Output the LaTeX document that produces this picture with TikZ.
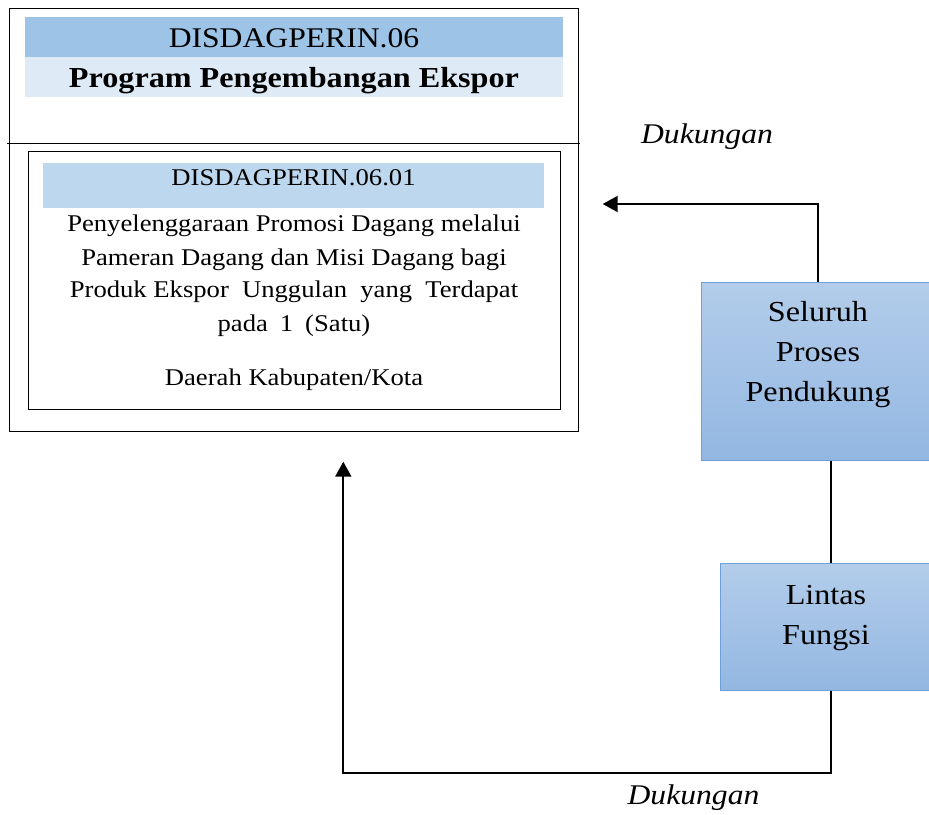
\documentclass[tikz,border=0pt]{standalone}
\usepackage{fontspec}
\setmainfont{Liberation Serif}[FakeStretch=1.11]
\usetikzlibrary{arrows.meta}

\definecolor{bandDark}{HTML}{9DC3E6}
\definecolor{bandLight}{HTML}{DEEAF6}
\definecolor{bandMid}{HTML}{BDD7EE}
\definecolor{procTop}{HTML}{B3CDEA}
\definecolor{procBot}{HTML}{93B7E2}
\definecolor{procEdge}{HTML}{6F9FD8}

\tikzset{
  frame/.style={draw=black, line width=1pt, inner sep=0pt},
  band/.style={inner sep=0pt, outer sep=0pt},
  procbox/.style={draw=procEdge, line width=1pt, top color=procTop, bottom color=procBot, inner sep=0pt},
  txt/.style={inner sep=0pt, anchor=base},
  flow/.style={line width=2pt, -{Triangle[length=15pt,width=16pt]}},
  link/.style={line width=2pt},
}

\newcommand{\bodyfont}{\fontsize{24}{33}\selectfont}
\newcommand{\procfont}{\fontsize{29}{40}\selectfont}
\newcommand{\notefont}{\fontsize{28.5}{32}\selectfont\itshape}

\begin{document}
\begin{tikzpicture}[x=1pt,y=-1pt]
\useasboundingbox (0,0) rectangle (929,814);

% outer program frame
\node[frame, minimum width=569pt, minimum height=423pt] (prog) at (293.5,219.5) {};
\coordinate (divL) at (7,143.3);
\coordinate (divR) at (580,143.3);
\draw[line width=1pt] (divL) -- (divR);

% program header bands
\node[band, fill=bandDark, minimum width=538pt, minimum height=40pt] (code) at (294,37.3) {};
\node[band, fill=bandLight, minimum width=538pt, minimum height=40pt] (title) at (294,77.3) {};
\node[txt, font=\fontsize{28.5}{34}\selectfont] (codeT) at (294,47.3) {DISDAGPERIN.06};
\node[txt, font=\fontsize{29}{34}\selectfont\bfseries] (titleT) at (294,87.3) {Program Pengembangan Ekspor};

% activity frame
\node[frame, minimum width=532pt, minimum height=257.6pt] (act) at (294,280.5) {};
\node[band, fill=bandMid, minimum width=501pt, minimum height=45pt] (actcode) at (293.5,185.2) {};
\node[txt, font=\fontsize{24}{30}\selectfont] (actcodeT) at (293.5,185) {DISDAGPERIN.06.01};

\node[txt, font=\bodyfont] (l1) at (294,231.7) {Penyelenggaraan Promosi Dagang melalui};
\node[txt, font=\bodyfont] (l2) at (294,265) {Pameran Dagang dan Misi Dagang bagi};
\node[txt, font=\bodyfont] (l3) at (294,297.7) {Produk Ekspor\hspace{0.55em}Unggulan\hspace{0.55em}yang\hspace{0.55em}Terdapat};
\node[txt, font=\bodyfont] (l4) at (294,331) {pada\hspace{0.5em}1\hspace{0.5em}(Satu)};
\node[txt, font=\bodyfont] (l5) at (294,385) {Daerah Kabupaten/Kota};

% supporting processes (text anchored on the baseline of its last line)
\node[procbox, minimum width=240pt, minimum height=178.4pt] (proc) at (821.7,371.5) {};
\node[txt, font=\procfont, align=center] (procT) at (818,401.7) {Seluruh\\Proses\\Pendukung};

\node[procbox, minimum width=220pt, minimum height=126.7pt] (cross) at (830,627.3) {};
\node[txt, font=\procfont, align=center] (crossT) at (826,644) {Lintas\\Fungsi};

% connectors
\coordinate (upTurn) at (818,204);
\coordinate (upEnd) at (602.7,204);
\coordinate (loTurnR) at (830.7,773.3);
\coordinate (loTurnL) at (343.3,773.3);
\coordinate (loEnd) at (343.3,461.7);

\draw[flow] (proc.north -| upTurn) -- (upTurn) -- (upEnd);
\draw[link] (proc.south -| loTurnR) -- (cross.north -| loTurnR);
\draw[flow] (cross.south -| loTurnR) -- (loTurnR) -- (loTurnL) -- (loEnd);

% labels
\node[txt, font=\notefont] (dukA) at (707,143) {Dukungan};
\node[txt, font=\notefont] (dukB) at (693.5,804) {Dukungan};
\end{tikzpicture}
\end{document}
